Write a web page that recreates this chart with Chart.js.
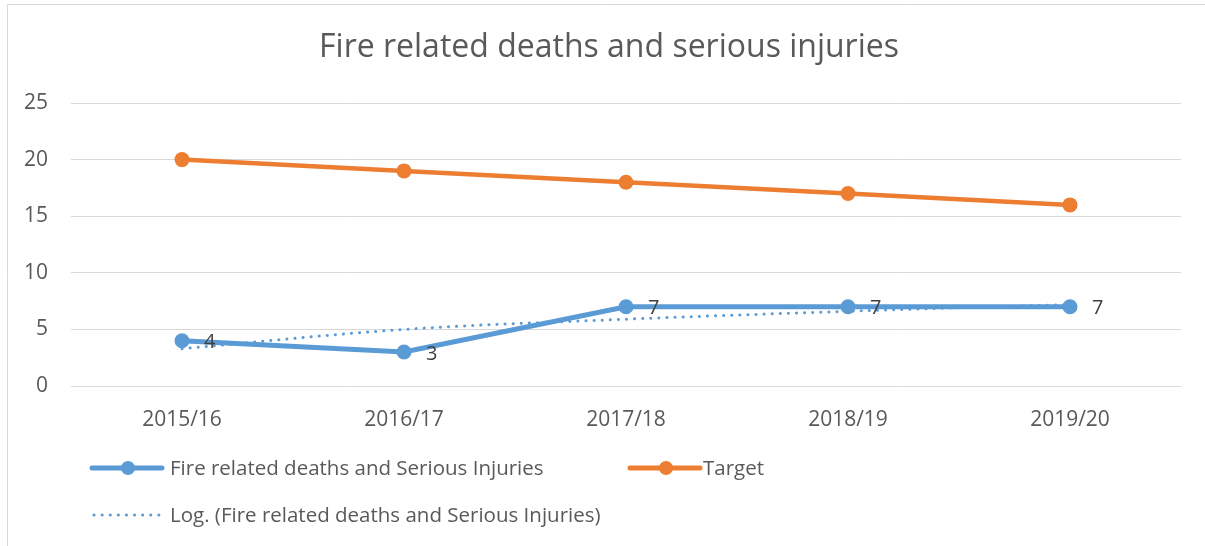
<!DOCTYPE html>
<html>
<head>
<meta charset="utf-8">
<script src="https://cdn.jsdelivr.net/npm/chart.js@4.4.1/dist/chart.umd.min.js"></script>
<style>
  body { margin: 0; background: #fff; }
  #wrap { width: 1205px; height: 546px; position: relative; }
</style>
</head>
<body>
<div id="wrap"><canvas id="fireChart"></canvas></div>
<script>
// values
const years = ['2015/16', '2016/17', '2017/18', '2018/19', '2019/20'];
const fireInjuries = [4, 3, 7, 7, 7];
const target = [20, 19, 18, 17, 16];
const logTrend = [3.3, 5.0, 5.9, 6.6, 7.2];   // Excel log trendline
const yMin = 0;
const yMax = 25;
const yStep = 5;

const blue = '#5B9BD5';
const orange = '#ED7D31';
const textGrey = '#595959';
const fontFamily = '"Open Sans", "Noto Sans", sans-serif';

// border, title, point labels and legend drawn by hand
const extras = {
    id: 'extras',
    beforeDraw(chart) {
        const c = chart.ctx;
        c.save();
        c.fillStyle = '#fff';
        c.fillRect(0, 0, chart.width, chart.height);
        c.strokeStyle = '#d9d9d9';
        c.lineWidth = 1;
        c.beginPath();
        c.moveTo(7.5, chart.height);
        c.lineTo(7.5, 4.5);
        c.lineTo(chart.width, 4.5);
        c.stroke();
        c.restore();
    },
    afterDatasetsDraw(chart) {
        const c = chart.ctx;
        c.save();
        // value labels for the main series
        const meta = chart.getDatasetMeta(0);
        c.font = '20px ' + fontFamily;
        c.fillStyle = '#404040';
        c.textAlign = 'left';
        c.textBaseline = 'middle';
        meta.data.forEach((pt, i) => {
            c.fillText(String(fireInjuries[i]), pt.x + 22, pt.y + 2);
        });

        // title
        c.font = '32px ' + fontFamily;
        c.fillStyle = textGrey;
        c.textAlign = 'center';
        c.fillText('Fire related deaths and serious injuries', 609, 48);

        // legend
        c.font = '20.5px ' + fontFamily;
        c.textAlign = 'left';
        c.fillStyle = textGrey;
        const drawLineItem = (x, y, colour, label, gap) => {
            c.strokeStyle = colour;
            c.lineWidth = 5;
            c.lineCap = 'round';
            c.beginPath();
            c.moveTo(x, y);
            c.lineTo(x + 70, y);
            c.stroke();
            c.fillStyle = colour;
            c.beginPath();
            c.arc(x + 36, y, 7, 0, Math.PI * 2);
            c.fill();
            c.fillStyle = textGrey;
            c.fillText(label, x + gap, y + 1);
        };
        drawLineItem(92, 468, blue, 'Fire related deaths and Serious Injuries', 78);
        drawLineItem(630, 468, orange, 'Target', 73);

        c.strokeStyle = blue;
        c.lineWidth = 3;
        c.lineCap = 'round';
        c.setLineDash([0.1, 8]);
        c.beginPath();
        c.moveTo(94, 515);
        c.lineTo(162, 515);
        c.stroke();
        c.setLineDash([]);
        c.fillStyle = textGrey;
        c.fillText('Log. (Fire related deaths and Serious Injuries)', 170, 516);
        c.restore();
    }
};

const ctx = document.getElementById('fireChart');
new Chart(ctx, {
    type: 'line',
    data: {
        labels: years,
        datasets: [
            {
                label: 'Fire related deaths and Serious Injuries',
                data: fireInjuries,
                borderColor: blue,
                backgroundColor: blue,
                borderWidth: 5,
                pointRadius: 7.5,
                pointHoverRadius: 7.5,
                pointBorderWidth: 0,
                fill: false,
                order: 2
            },
            {
                label: 'Target',
                data: target,
                borderColor: orange,
                backgroundColor: orange,
                borderWidth: 4.5,
                pointRadius: 7.5,
                pointHoverRadius: 7.5,
                pointBorderWidth: 0,
                fill: false,
                order: 1
            },
            {
                label: 'Log. (Fire related deaths and Serious Injuries)',
                data: logTrend,
                borderColor: blue,
                borderWidth: 3,
                borderDash: [0.1, 8],
                borderCapStyle: 'round',
                pointRadius: 0,
                cubicInterpolationMode: 'monotone',
                fill: false,
                order: 0
            }
        ]
    },
    options: {
        responsive: true,
        maintainAspectRatio: false,
        animation: false,
        layout: { padding: { top: 103, right: 24, bottom: 0, left: 0 } },
        plugins: {
            legend: { display: false },
            title: { display: false },
            tooltip: { enabled: false }
        },
        scales: {
            x: {
                offset: true,
                grid: { display: false },
                border: { display: false },
                ticks: {
                    color: textGrey,
                    font: { family: fontFamily, size: 21 },
                    padding: 13,
                    maxRotation: 0
                },
                afterFit(scale) { scale.height = 160; }
            },
            y: {
                min: yMin,
                max: yMax,
                grid: { color: '#d9d9d9', lineWidth: 1, drawTicks: false },
                border: { display: false },
                ticks: {
                    stepSize: yStep,
                    color: textGrey,
                    font: { family: fontFamily, size: 21 },
                    padding: 23
                },
                afterFit(scale) { scale.width = 71; }
            }
        }
    },
    plugins: [extras]
});
</script>
</body>
</html>
